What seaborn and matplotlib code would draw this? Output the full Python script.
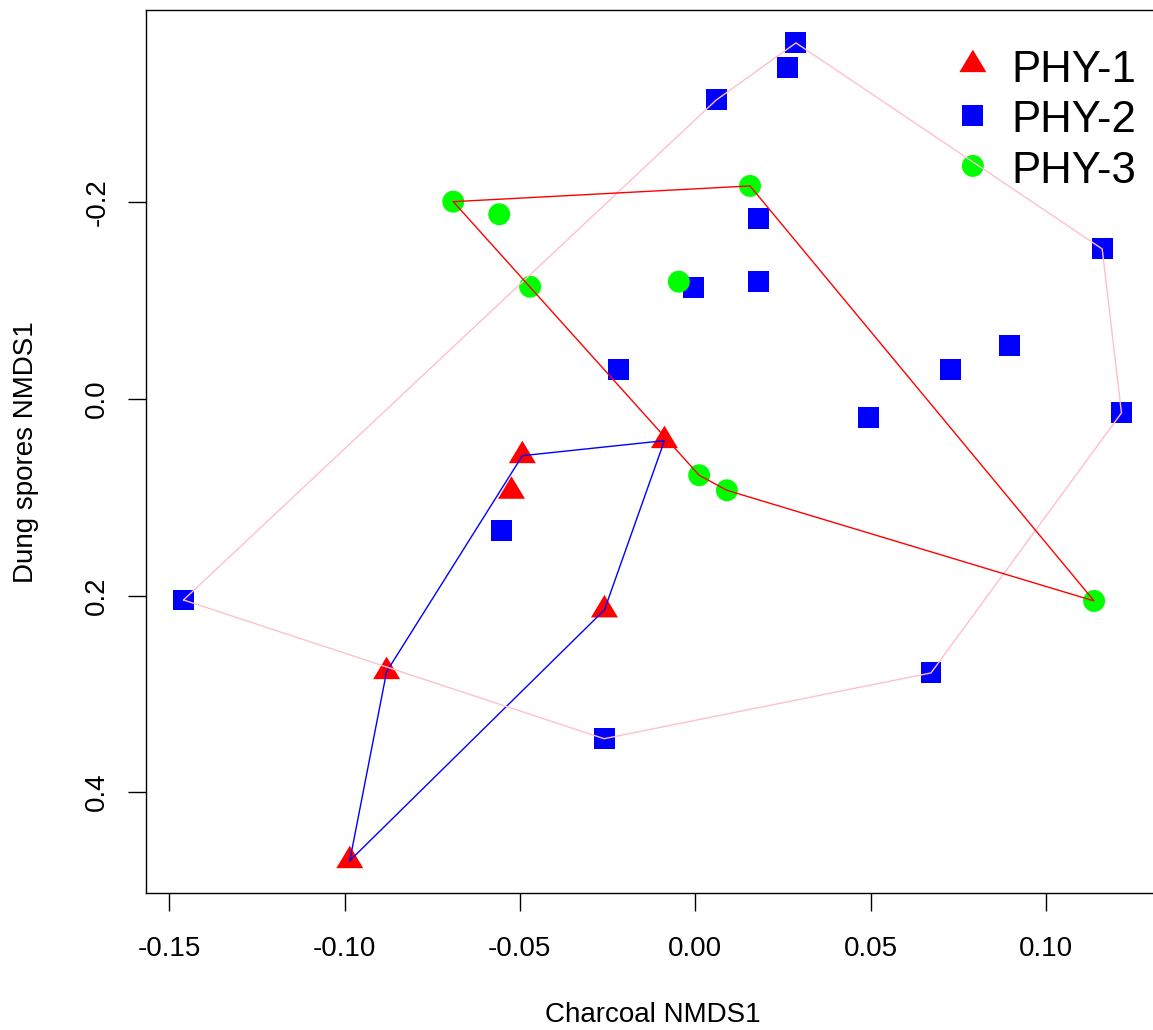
import numpy as np
import matplotlib
matplotlib.use("Agg")
import matplotlib.pyplot as plt
import seaborn as sns
from matplotlib.path import Path

# ---------------- data ----------------
phy1_x = [-0.0088, -0.0493, -0.0524, -0.0259, -0.0880, -0.0985]
phy1_y = [0.0424, 0.0577, 0.0939, 0.2146, 0.2774, 0.4697]

phy2_x = [0.0287, 0.0262, 0.0060, 0.0180, 0.1160, -0.0006, 0.0180, 0.0895,
          0.0727, -0.0218, 0.1215, 0.0495, -0.0553, -0.1459, 0.0672, -0.0260]
phy2_y = [-0.3622, -0.3370, -0.3042, -0.1831, -0.1526, -0.1132, -0.1193, -0.0539,
          -0.0295, -0.0295, 0.0142, 0.0190, 0.1340, 0.2045, 0.2787, 0.3456]

phy3_x = [-0.0690, -0.0559, 0.0156, -0.0471, -0.0047, 0.0011, 0.0090, 0.1137]
phy3_y = [-0.2007, -0.1879, -0.2167, -0.1142, -0.1193, 0.0776, 0.0929, 0.2055]

group_names = ["PHY-1", "PHY-2", "PHY-3"]
x_ticks = [-0.15, -0.10, -0.05, 0.00, 0.05, 0.10]
x_tick_labels = ["-0.15", "-0.10", "-0.05", "0.00", "0.05", "0.10"]
y_ticks = [-0.2, 0.0, 0.2, 0.4]
y_tick_labels = ["-0.2", "0.0", "0.2", "0.4"]
x_label = "Charcoal NMDS1"
y_label = "Dung spores NMDS1"

# ---------------- style ----------------
sns.set_theme(style="ticks")
plt.rcParams["font.family"] = ["Liberation Sans", "DejaVu Sans"]
plt.rcParams.update({
    "text.color": "black",
    "axes.labelcolor": "black",
    "axes.linewidth": 1.0,
    "axes.edgecolor": "black",
    "xtick.color": "black",
    "ytick.color": "black",
    "xtick.major.size": 13.2,
    "ytick.major.size": 13.2,
    "xtick.major.width": 1.0,
    "ytick.major.width": 1.0,
    "xtick.labelsize": 20,
    "ytick.labelsize": 20,
    "xtick.major.pad": 17.5,
    "ytick.major.pad": 12.5,
})

W, H = 1153, 1030
fig = plt.figure(figsize=(W / 100, H / 100), dpi=100)
fig.patch.set_facecolor("white")

left_px, right_px, top_px, bottom_px = 146, 1159, 10.2, 893.4
ax = fig.add_axes([left_px / W, 1 - bottom_px / H,
                   (right_px - left_px) / W, (bottom_px - top_px) / H])
ax.set_facecolor("white")

# triangle marker centred on its centroid (like R's pch 17)
tri = Path([(-0.9, -0.5), (0.9, -0.5), (0.0, 1.0), (-0.9, -0.5)],
           [Path.MOVETO, Path.LINETO, Path.LINETO, Path.CLOSEPOLY])

groups = [
    (group_names[0], phy1_x, phy1_y, tri, "#FF0000", 21.6 ** 2, "#0000FF"),
    (group_names[1], phy2_x, phy2_y, "s", "#0000FF", 15.1 ** 2, "#FFC0CB"),
    (group_names[2], phy3_x, phy3_y, "o", "#00FF00", 15.8 ** 2, "#FF0000"),
]


def convex_hull(xs, ys):
    pts = sorted(set(zip(xs, ys)))

    def cross(o, a, b):
        return (a[0] - o[0]) * (b[1] - o[1]) - (a[1] - o[1]) * (b[0] - o[0])

    lower, upper = [], []
    for p in pts:
        while len(lower) >= 2 and cross(lower[-2], lower[-1], p) <= 0:
            lower.pop()
        lower.append(p)
    for p in reversed(pts):
        while len(upper) >= 2 and cross(upper[-2], upper[-1], p) <= 0:
            upper.pop()
        upper.append(p)
    hull = lower[:-1] + upper[:-1]
    hull.append(hull[0])
    return [p[0] for p in hull], [p[1] for p in hull]


handles = []
for name, xs, ys, mk, col, s, hcol in groups:
    sns.scatterplot(x=xs, y=ys, marker=mk, color=col, s=s, linewidth=0,
                    edgecolor="none", ax=ax, label=name, zorder=2, legend=False)
    handles.append(ax.collections[-1])

for name, xs, ys, mk, col, s, hcol in groups:
    hx, hy = convex_hull(xs, ys)
    ax.plot(hx, hy, color=hcol, lw=1.0, zorder=3, solid_joinstyle="miter")

# limits like R (4% extension of data range), y axis reversed
all_x = phy1_x + phy2_x + phy3_x
all_y = phy1_y + phy2_y + phy3_y
xr = max(all_x) - min(all_x)
yr = max(all_y) - min(all_y)
ax.set_xlim(min(all_x) - 0.04 * xr, max(all_x) + 0.04 * xr)
ax.set_ylim(max(all_y) + 0.04 * yr, min(all_y) - 0.04 * yr)

ax.set_xticks(x_ticks)
ax.set_xticklabels(x_tick_labels, color="black")
ax.set_yticks(y_ticks)
ax.set_yticklabels(y_tick_labels, rotation=90, va="center", color="black")
ax.tick_params(direction="out")

for sp in ax.spines.values():
    sp.set_visible(True)
    sp.set_color("black")
    sp.set_linewidth(1.0)

ax.set_xlabel(x_label, fontsize=20, color="black")
ax.set_ylabel(y_label, fontsize=20, color="black")
ax.xaxis.set_label_coords(0.5, (bottom_px - 1015) / (bottom_px - top_px))
ax.xaxis.label.set_va("center")
ax.yaxis.set_label_coords((26 - left_px) / (right_px - left_px), 0.5)
ax.yaxis.label.set_va("center")

leg = ax.legend(handles, group_names, loc="upper left",
                bbox_to_anchor=(951.0 / W, 1 - 49.5 / H),
                bbox_transform=fig.transFigure, frameon=False, fontsize=31.5,
                labelcolor="black",
                handlelength=1.0, handletextpad=0.38, borderpad=0,
                borderaxespad=0, labelspacing=0.22, scatteryoffsets=[0.55])
leg.set_zorder(1.5)

fig.savefig("out.png", dpi=100, facecolor="white")
